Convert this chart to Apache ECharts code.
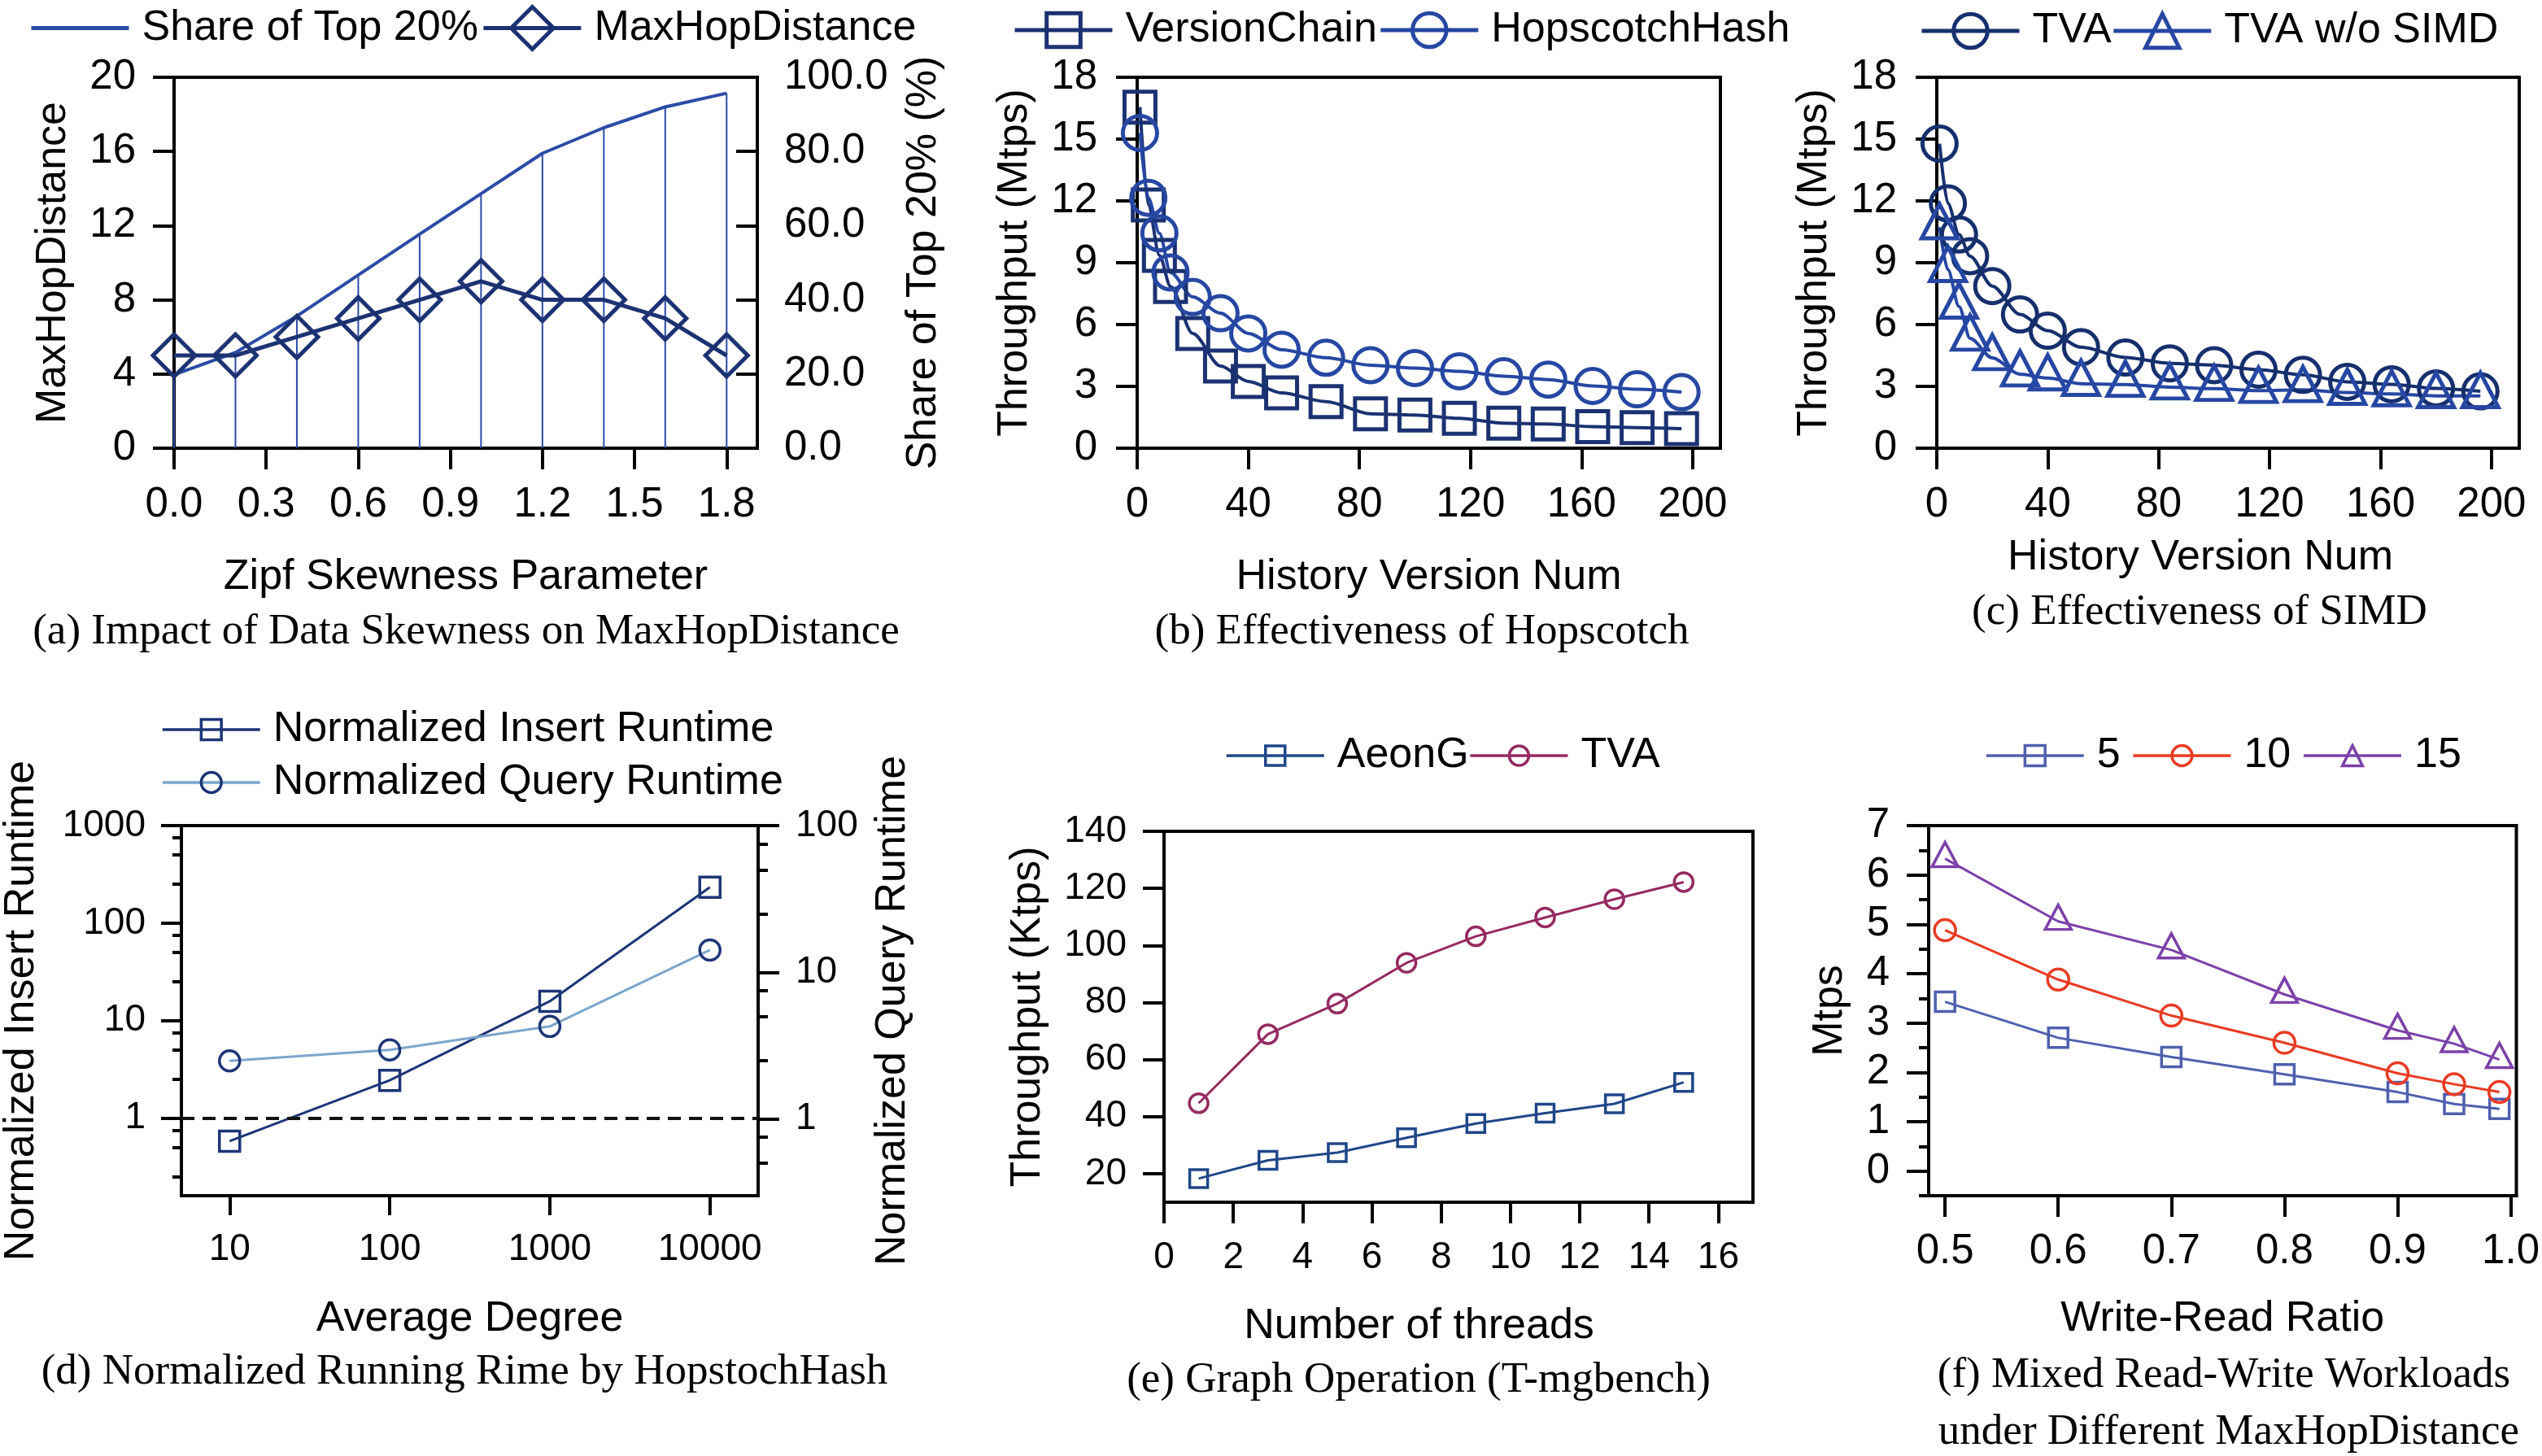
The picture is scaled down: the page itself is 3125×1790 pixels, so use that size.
<!DOCTYPE html>
<html>
<head>
<meta charset="utf-8">
<script src="https://cdn.jsdelivr.net/npm/echarts@6/dist/echarts.min.js"></script>
<style>
    html, body {margin: 0; padding: 0; background: #fff;}
    #main {width: 3125px; height: 1790px;}
</style>
</head>
<body>
<div id="main"></div>
<script>
var SANS = '"Liberation Sans", Arial, Helvetica, sans-serif';
var SERIF = '"Liberation Serif", "Times New Roman", serif';

/* (a) zipf skewness */
var zipfX = [0, 0.2, 0.4, 0.6, 0.8, 1.0, 1.2, 1.4, 1.6, 1.8];
var shareTop20 = [19.8, 25.8, 35.6, 46.7, 57.7, 68.6, 79.5, 86.4, 92.0, 95.7];
var maxHopDist = [5, 5, 6, 7, 8, 9, 8, 8, 7, 5];
var zipfTicks = [0, 0.3, 0.6, 0.9, 1.2, 1.5, 1.8];

/* (b)(c) history versions */
var historyVersion = [1, 4, 8, 12, 20, 30, 40, 52, 68, 84, 100, 116, 132, 148, 164, 180, 196];
var versionChain = [16.55, 11.8, 9.36, 7.85, 5.57, 3.99, 3.24, 2.68, 2.26, 1.67, 1.61, 1.45, 1.21, 1.17, 1.05, 1.0, 0.95];
var hopscotchHash = [15.3, 12.15, 10.43, 8.53, 7.34, 6.55, 5.57, 4.78, 4.39, 4.03, 3.89, 3.73, 3.49, 3.33, 3.02, 2.86, 2.72];
var tvaSimd = [14.78, 11.88, 10.37, 9.32, 7.87, 6.49, 5.7, 4.9, 4.4, 4.12, 4.03, 3.81, 3.56, 3.22, 3.1, 2.9, 2.76];
var tvaNoSimd = [10.73, 8.66, 6.88, 5.33, 4.38, 3.59, 3.4, 3.13, 3.09, 2.96, 2.89, 2.79, 2.83, 2.7, 2.63, 2.54, 2.54];
var versionTicks = [0, 40, 80, 120, 160, 200];

/* (d) average degree, log scales */
var avgDegree = [10, 100, 1000, 10000];
var insertRuntime = [0.58, 2.44, 15.8, 233];
var queryRuntime = [2.49, 2.96, 4.28, 14.2];
var insertMajor = [1, 10, 100, 1000];
var insertMinor = [0.25, 0.5, 0.75, 2.5, 5, 7.5, 25, 50, 75, 250, 500, 750];
var queryMajor = [1, 10, 100];
var queryMinor = [0.5, 0.75, 2.5, 5, 7.5, 25, 50, 75];

/* (e) threads */
var threads = [1, 3, 5, 7, 9, 11, 13, 15];
var aeonG = [18.3, 24.7, 27.4, 32.6, 37.6, 41.2, 44.5, 52.0];
var tvaThroughput = [44.7, 68.9, 79.6, 93.9, 103.2, 109.8, 116.2, 122.2];
var threadTicks = [0, 2, 4, 6, 8, 10, 12, 14, 16];
var ktpsTicks = [20, 40, 60, 80, 100, 120, 140];

/* (f) write-read ratio */
var writeReadRatio = [0.5, 0.6, 0.7, 0.8, 0.9, 0.95, 0.99];
var hop5 = [3.43, 2.70, 2.31, 1.96, 1.60, 1.36, 1.26];
var hop10 = [4.88, 3.88, 3.15, 2.60, 1.98, 1.76, 1.60];
var hop15 = [6.33, 5.06, 4.48, 3.58, 2.85, 2.58, 2.26];
var ratioTicks = [0.5, 0.6, 0.7, 0.8, 0.9, 1.0];
var mtpsMajor = [0, 1, 2, 3, 4, 5, 6, 7];
var mtpsMinor = [-0.5, 0.5, 1.5, 2.5, 3.5, 4.5, 5.5, 6.5];

var C_SHARE = '#2b4ba6', C_HOP = '#1c3273';
var C_VC = '#1b3272', C_HH = '#2647a2';
var C_TVA = '#162f6d', C_NOSIMD = '#2647a3';
var C_INS = '#1d3577', C_QRY = '#7ba6cc';
var C_AEON = '#1f4788', C_TVA2 = '#962a61';
var C_H5 = '#4f60ae', C_H10 = '#e93a22', C_H15 = '#7b41a9';

function pairs(xs, ys) {
    return xs.map(function (x, i) { return [x, ys[i]]; });
}

function fixed1(v) { return v.toFixed(1); }
function plain(v) { return String(Math.round(v)); }

function axis(o) {
    var a = {
        type: o.type || 'value',
        gridIndex: o.grid,
        position: o.position,
        min: o.min,
        max: o.max,
        name: o.name || '',
        nameLocation: 'middle',
        nameGap: o.nameGap || 0,
        nameTextStyle: {fontFamily: SANS, fontSize: 52, color: '#000', padding: o.namePad || 0},
        axisLine: {show: o.line !== false, onZero: false, lineStyle: {color: '#000', width: 4}},
        axisTick: {
            show: !!o.ticks, inside: !!o.inside, length: o.tickLen || 26,
            customValues: o.ticks, lineStyle: {color: '#000', width: 4}
        },
        axisLabel: {
            show: !!o.labels, customValues: o.labels, margin: o.margin,
            fontFamily: SANS, fontSize: o.fontSize || 51, color: '#000'
        },
        splitLine: {show: false},
        minorTick: {show: false}
    };
    if (o.fmt) a.axisLabel.formatter = o.fmt;
    if (a.type === 'log') a.logBase = 10;
    return a;
}

function lineSeries(o) {
    var s = {
        type: 'line',
        name: o.name,
        xAxisIndex: o.x,
        yAxisIndex: o.y,
        data: o.data,
        symbol: o.symbol,
        symbolSize: o.size,
        smooth: o.smooth || false,
        smoothMonotone: o.smooth ? 'x' : undefined,
        lineStyle: {color: o.color, width: o.width},
        itemStyle: {color: 'transparent', borderColor: o.border || o.color, borderWidth: o.bw || o.width},
        z: o.z || 3
    };
    if (o.symbol === 'triangle') s.symbolOffset = [0, '-17%'];
    return s;
}

function legendItem(name, color, border, w) {
    return {
        name: name,
        itemStyle: {color: 'transparent', borderColor: border, borderWidth: w},
        lineStyle: {color: color, width: w}
    };
}

function legend(o) {
    return {
        orient: o.orient || 'horizontal',
        left: o.left,
        top: o.top,
        padding: 0,
        itemWidth: 120,
        itemHeight: o.itemHeight,
        itemGap: o.itemGap,
        selectedMode: false,
        textStyle: {fontFamily: SANS, fontSize: 52, color: '#000', lineHeight: 56, padding: [0, 0, 0, 11]},
        data: o.data
    };
}

function caption(text, x, y) {
    return {
        type: 'text', x: x, y: y, silent: true,
        style: {
            text: text, fontFamily: SERIF, fontSize: 53, fill: '#000',
            textAlign: 'center', textVerticalAlign: 'middle', align: 'center', verticalAlign: 'middle'
        }
    };
}

function box(left, top, width, height) {
    return {left: left, top: top, width: width, height: height, show: true,
        borderColor: '#000', borderWidth: 4, backgroundColor: 'transparent'};
}

var grids = [
    box(214, 95, 717, 456),     // a
    box(1398, 95, 717, 456),    // b
    box(2381, 95, 716, 456),    // c
    box(214, 1015, 718, 455),   // d
    box(1431, 1022, 724, 456),  // e
    box(2371, 1015, 726, 455)   // f
];

var xAxes = [
    axis({grid: 0, min: 0, max: 1.9, ticks: zipfTicks, labels: zipfTicks, fmt: fixed1, margin: 44,
        name: 'Zipf Skewness Parameter', nameGap: 133}),
    axis({grid: 1, min: 0, max: 210, ticks: versionTicks, labels: versionTicks, margin: 44,
        name: 'History Version Num', nameGap: 133}),
    axis({grid: 2, min: 0, max: 210, ticks: versionTicks, labels: versionTicks, margin: 44,
        name: 'History Version Num', nameGap: 109, namePad: [0, 68, 0, 0]}),
    axis({grid: 3, type: 'log', min: 5, max: 20000, ticks: avgDegree, labels: avgDegree, fmt: plain,
        margin: 43, fontSize: 46, tickLen: 24, name: 'Average Degree', nameGap: 126}),
    axis({grid: 4, min: 0, max: 17, ticks: threadTicks, labels: threadTicks, margin: 45, fontSize: 46,
        name: 'Number of threads', nameGap: 127, namePad: [0, 97, 0, 0]}),
    axis({grid: 5, min: 0.4855, max: 1.005, ticks: ratioTicks, labels: ratioTicks, fmt: fixed1, margin: 43,
        name: 'Write-Read Ratio', nameGap: 126})
];

var yAxes = [
    // 0: (a) left
    axis({grid: 0, position: 'left', min: 0, max: 20, ticks: [0, 4, 8, 12, 16, 20], labels: [0, 4, 8, 12, 16, 20],
        margin: 47, name: 'MaxHopDistance', nameGap: 122}),
    // 1: (a) right
    axis({grid: 0, position: 'right', min: 0, max: 100, ticks: [0, 20, 40, 60, 80, 100], labels: [0, 20, 40, 60, 80, 100],
        inside: true, fmt: fixed1, margin: 33, name: 'Share of Top 20% (%)', nameGap: 179}),
    // 2: (b)
    axis({grid: 1, position: 'left', min: 0, max: 18, ticks: [0, 3, 6, 9, 12, 15, 18], labels: [0, 3, 6, 9, 12, 15, 18],
        margin: 49, name: 'Throughput (Mtps)', nameGap: 124}),
    // 3: (c)
    axis({grid: 2, position: 'left', min: 0, max: 18, ticks: [0, 3, 6, 9, 12, 15, 18], labels: [0, 3, 6, 9, 12, 15, 18],
        margin: 49, name: 'Throughput (Mtps)', nameGap: 124}),
    // 4: (d) left log
    axis({grid: 3, position: 'left', type: 'log', min: 0.16, max: 1000, ticks: insertMajor, labels: insertMajor,
        fmt: plain, margin: 44, fontSize: 46, tickLen: 25, name: 'Normalized Insert Runtime', nameGap: 170}),
    // 5: (d) right log
    axis({grid: 3, position: 'right', type: 'log', min: 0.3, max: 100, ticks: queryMajor, labels: queryMajor,
        fmt: plain, margin: 46, fontSize: 46, tickLen: 26, name: 'Normalized Query Runtime', nameGap: 140}),
    // 6: (d) left minor ticks
    axis({grid: 3, position: 'left', type: 'log', min: 0.16, max: 1000, ticks: insertMinor, tickLen: 11, line: false}),
    // 7: (d) right minor ticks
    axis({grid: 3, position: 'right', type: 'log', min: 0.3, max: 100, ticks: queryMinor, tickLen: 12, line: false}),
    // 8: (e)
    axis({grid: 4, position: 'left', min: 10, max: 140, ticks: ktpsTicks, labels: ktpsTicks, margin: 46, fontSize: 46,
        name: 'Throughput (Ktps)', nameGap: 141}),
    // 9: (f)
    axis({grid: 5, position: 'left', min: -0.5, max: 7, ticks: mtpsMajor, labels: mtpsMajor, margin: 48, tickLen: 27,
        name: 'Mtps', nameGap: 95}),
    // 10: (f) minor ticks
    axis({grid: 5, position: 'left', min: -0.5, max: 7, ticks: mtpsMinor, tickLen: 12, line: false})
];

var series = [
    // (a)
    {
        type: 'bar', name: 'shareDrop', xAxisIndex: 0, yAxisIndex: 1,
        data: pairs(zipfX, shareTop20), barWidth: 2, itemStyle: {color: C_SHARE}, z: 2
    },
    lineSeries({name: 'Share of Top 20%', x: 0, y: 1, data: pairs(zipfX, shareTop20), symbol: 'none',
        color: C_SHARE, width: 4}),
    lineSeries({name: 'MaxHopDistance', x: 0, y: 0, data: pairs(zipfX, maxHopDist), symbol: 'diamond', size: 52,
        color: C_HOP, width: 5, z: 4}),
    // (b)
    lineSeries({name: 'VersionChain', x: 1, y: 2, data: pairs(historyVersion, versionChain), symbol: 'rect', size: 38,
        color: C_VC, width: 4, bw: 5, smooth: 0.3}),
    lineSeries({name: 'HopscotchHash', x: 1, y: 2, data: pairs(historyVersion, hopscotchHash), symbol: 'circle', size: 42,
        color: C_HH, width: 4, bw: 5, smooth: 0.3}),
    // (c)
    lineSeries({name: 'TVA', x: 2, y: 3, data: pairs(historyVersion, tvaSimd), symbol: 'circle', size: 42,
        color: C_TVA, width: 4, bw: 5, smooth: 0.3}),
    lineSeries({name: 'TVA w/o SIMD', x: 2, y: 3, data: pairs(historyVersion, tvaNoSimd), symbol: 'triangle', size: [44, 42],
        color: C_NOSIMD, width: 4, bw: 5, smooth: 0.3}),
    // (d)
    (function () {
        var s = lineSeries({name: 'Normalized Insert Runtime', x: 3, y: 4, data: pairs(avgDegree, insertRuntime),
            symbol: 'rect', size: 25, color: C_INS, width: 3, bw: 3.5});
        s.markLine = {
            silent: true, symbol: ['none', 'none'], label: {show: false},
            lineStyle: {color: '#111', width: 4, type: [16, 10]},
            data: [{yAxis: 1}]
        };
        return s;
    })(),
    lineSeries({name: 'Normalized Query Runtime', x: 3, y: 5, data: pairs(avgDegree, queryRuntime),
        symbol: 'circle', size: 25, color: C_QRY, border: C_INS, width: 3, bw: 3.5}),
    // (e)
    lineSeries({name: 'AeonG', x: 4, y: 8, data: pairs(threads, aeonG), symbol: 'rect', size: 22,
        color: C_AEON, width: 3, bw: 3.5}),
    lineSeries({name: 'TVA', x: 4, y: 8, data: pairs(threads, tvaThroughput), symbol: 'circle', size: 23,
        color: C_TVA2, width: 3, bw: 3.5}),
    // (f)
    lineSeries({name: '5', x: 5, y: 9, data: pairs(writeReadRatio, hop5), symbol: 'rect', size: 24,
        color: C_H5, width: 3, bw: 3.5}),
    lineSeries({name: '10', x: 5, y: 9, data: pairs(writeReadRatio, hop10), symbol: 'circle', size: 26,
        color: C_H10, width: 3, bw: 3.5}),
    lineSeries({name: '15', x: 5, y: 9, data: pairs(writeReadRatio, hop15), symbol: 'triangle', size: [32, 30],
        color: C_H15, width: 3, bw: 3.5})
];

var legends = [
    legend({left: 36, top: 6, itemHeight: 65, itemGap: 4, data: [
        {name: 'Share of Top 20%', itemStyle: {color: 'transparent', borderColor: 'transparent', borderWidth: 0},
            lineStyle: {color: C_SHARE, width: 5}},
        legendItem('MaxHopDistance', C_HOP, C_HOP, 5)
    ]}),
    legend({left: 1245, top: 9, itemHeight: 52, itemGap: 2, data: [
        legendItem('VersionChain', C_VC, C_VC, 5),
        legendItem('HopscotchHash', C_HH, C_HH, 5)
    ]}),
    legend({left: 2360, top: 10, itemHeight: 52, itemGap: 0, data: [
        legendItem('TVA', C_TVA, C_TVA, 5),
        legendItem('TVA w/o SIMD', C_NOSIMD, C_NOSIMD, 5)
    ]}),
    legend({left: 198, top: 869, orient: 'vertical', itemHeight: 31, itemGap: 9, data: [
        legendItem('Normalized Insert Runtime', C_INS, C_INS, 3.5),
        legendItem('Normalized Query Runtime', C_QRY, C_INS, 3.5)
    ]}),
    legend({left: 1506, top: 901, itemHeight: 30, itemGap: 0, data: [
        legendItem('AeonG', C_AEON, C_AEON, 3.5),
        legendItem('TVA', C_TVA2, C_TVA2, 3.5)
    ]}),
    legend({left: 2440, top: 901, itemHeight: 31, itemGap: 14, data: [
        legendItem('5', C_H5, C_H5, 3.5),
        legendItem('10', C_H10, C_H10, 3.5),
        legendItem('15', C_H15, C_H15, 3.5)
    ]})
];

var captions = [
    caption('(a) Impact of Data Skewness on MaxHopDistance', 573, 777),
    caption('(b) Effectiveness of Hopscotch', 1748, 777),
    caption('(c) Effectiveness of SIMD', 2704, 753),
    caption('(d) Normalized Running Rime by HopstochHash', 571, 1687),
    caption('(e) Graph Operation (T-mgbench)', 1744, 1697),
    caption('(f) Mixed Read-Write Workloads', 2734, 1691),
    caption('under Different MaxHopDistance', 2740, 1761)
];

var option = {
    animation: false,
    backgroundColor: '#fff',
    textStyle: {fontFamily: SANS},
    grid: grids,
    xAxis: xAxes,
    yAxis: yAxes,
    legend: legends,
    graphic: {elements: captions},
    series: series
};

var chart = echarts.init(document.getElementById('main'), null, {renderer: 'canvas'});
chart.setOption(option);
</script>
</body>
</html>
